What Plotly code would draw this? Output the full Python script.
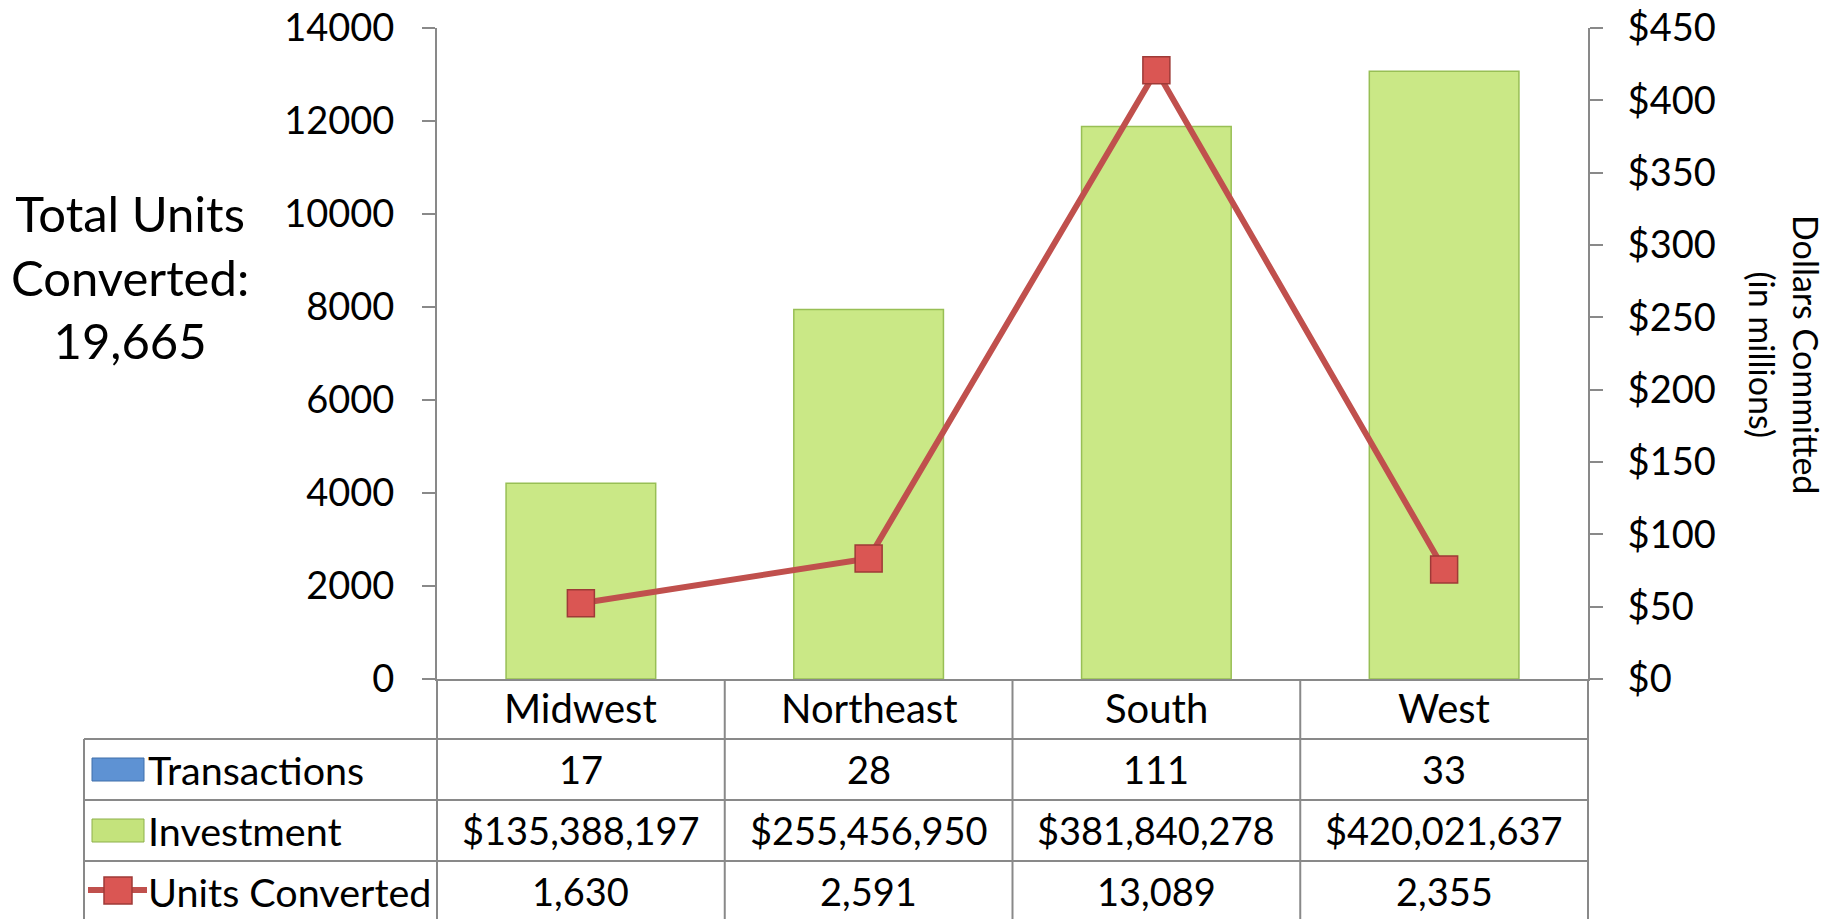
import plotly.graph_objects as go

regions = ["Midwest", "Northeast", "South", "West"]
transactions = [17, 28, 111, 33]
investment = [135388197, 255456950, 381840278, 420021637]
units_converted = [1630, 2591, 13089, 2355]
total_units = 19665

W, H = 1835, 919
# plot area in pixels
PL, PR, PT, PB = 437, 1588, 28, 679
FONT = "Lato"
GRID = "#898989"


def px(x):
    return (x - PL) / (PR - PL)


def py(y):
    return (PB - y) / (PB - PT)


invest_m = [v / 1e6 for v in investment]

fig = go.Figure()
fig.add_trace(
    go.Bar(
        x=regions,
        y=invest_m,
        yaxis="y",
        width=0.52,
        name="Investment",
        marker={"color": "#CAE886",
                "line": {"color": "#98BF55", "width": 1.5}},
        showlegend=False,
    )
)
fig.add_trace(
    go.Scatter(
        x=regions,
        y=units_converted,
        yaxis="y2",
        mode="lines+markers",
        name="Units Converted",
        line={"color": "#C0504D", "width": 6},
        marker={"symbol": "square", "size": 27, "color": "#DA5653",
                "line": {"color": "#9E3A37", "width": 1.5}},
        showlegend=False,
    )
)

axis_style = dict(
    showgrid=False,
    zeroline=False,
    showline=True,
    linecolor=GRID,
    linewidth=2,
    ticks="outside",
    ticklen=13,
    tickwidth=2,
    tickcolor=GRID,
    tickfont={"size": 38, "color": "black", "family": FONT},
    automargin=False,
)

fig.update_layout(
    width=W,
    height=H,
    margin={"l": PL, "r": W - PR, "t": PT, "b": H - PB},
    paper_bgcolor="white",
    plot_bgcolor="white",
    font={"family": FONT, "color": "black"},
    showlegend=False,
    xaxis=dict(
        showgrid=False,
        showline=True,
        linecolor=GRID,
        linewidth=2,
        ticks="",
        showticklabels=False,
        automargin=False,
    ),
    yaxis=dict(side="right", range=[0, 450], dtick=50, tickprefix="$",
               ticklabelstandoff=17, **axis_style),
    yaxis2=dict(side="left", overlaying="y", range=[0, 14000], dtick=2000,
                tickformat="d", ticklabelstandoff=20, **axis_style),
)

shapes = []
line = {"color": GRID, "width": 2}
# horizontal table rules
for y in [739, 800, 861]:
    shapes.append(dict(type="line", xref="paper", yref="paper",
                       x0=px(84), x1=1, y0=py(y), y1=py(y), line=line))
# left edge of the table
shapes.append(dict(type="line", xref="paper", yref="paper",
                   x0=px(84), x1=px(84), y0=py(739), y1=py(930), line=line))
# column separators
for i in range(len(regions) + 1):
    shapes.append(dict(type="line", xref="paper", yref="paper",
                       x0=i / len(regions), x1=i / len(regions),
                       y0=0, y1=py(930), line=line))

# legend keys
shapes.append(dict(type="rect", xref="paper", yref="paper",
                   x0=px(92), x1=px(144), y0=py(758), y1=py(781),
                   fillcolor="#5E92D3", line={"color": "#3F6FAA", "width": 1}))
shapes.append(dict(type="rect", xref="paper", yref="paper",
                   x0=px(92), x1=px(144), y0=py(819), y1=py(842),
                   fillcolor="#C4E37C", line={"color": "#8DB04A", "width": 1}))
shapes.append(dict(type="line", xref="paper", yref="paper",
                   x0=px(88), x1=px(147), y0=py(890), y1=py(890),
                   line={"color": "#C0504D", "width": 6}))
shapes.append(dict(type="rect", xref="paper", yref="paper",
                   x0=px(104), x1=px(132), y0=py(877), y1=py(904),
                   fillcolor="#DA5653", line={"color": "#9E3A37", "width": 1.5}))

annotations = []
# category row
for reg in regions:
    annotations.append(dict(xref="x", yref="paper", x=reg, y=py(708),
                            xanchor="center", yanchor="middle", text=reg,
                            showarrow=False, font={"size": 40}))

row_names = ["Transactions", "Investment", "Units Converted"]
row_vals = [
    [str(v) for v in transactions],
    ["${:,}".format(v) for v in investment],
    ["{:,}".format(v) for v in units_converted],
]
row_y = [769, 830, 891]
for name, vals, y in zip(row_names, row_vals, row_y):
    annotations.append(dict(xref="paper", yref="paper", x=px(146), y=py(y),
                            xanchor="left", yanchor="middle", text=name,
                            showarrow=False, font={"size": 39.5}))
    for reg, v in zip(regions, vals):
        annotations.append(dict(xref="x", yref="paper", x=reg, y=py(y),
                                xanchor="center", yanchor="middle", text=v,
                                showarrow=False, font={"size": 38}))

annotations.append(dict(xref="paper", yref="paper", x=px(130), y=py(276),
                        xanchor="center", yanchor="middle",
                        text="Total Units<br>Converted:<br>{:,}".format(total_units),
                        showarrow=False, font={"size": 49}))
annotations.append(dict(xref="paper", yref="paper", x=px(1785), y=py(354),
                        xanchor="center", yanchor="middle", textangle=90,
                        text="Dollars Committed<br>(in millions)",
                        showarrow=False, font={"size": 34}))

fig.update_layout(shapes=shapes, annotations=annotations)

fig.write_html("out.html", config={"displayModeBar": False},
               post_script="document.body.style.margin='0px';")
